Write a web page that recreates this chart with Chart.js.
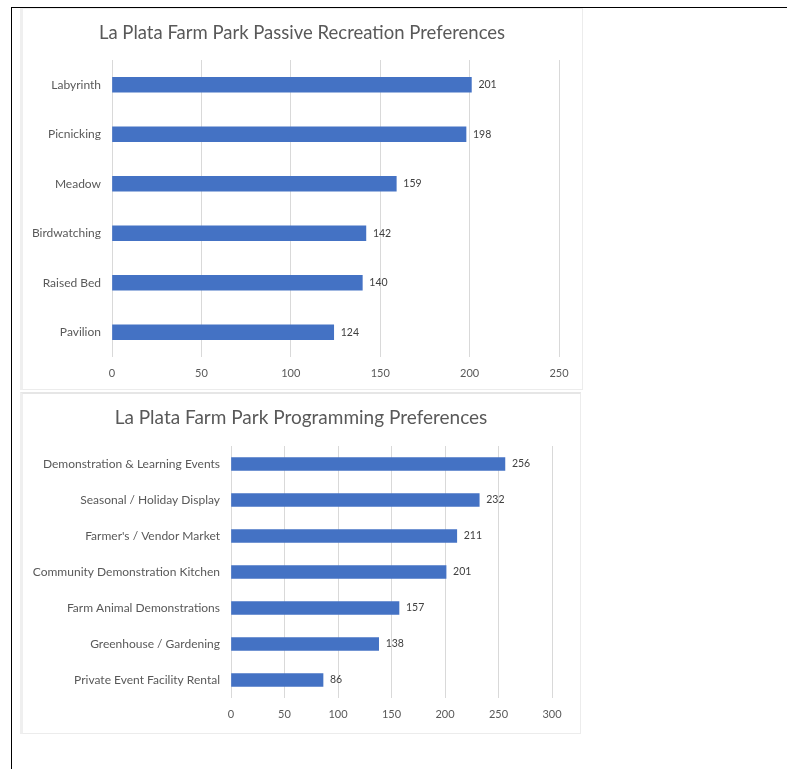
<!DOCTYPE html>
<html>
<head>
<meta charset="utf-8">
<script src="https://cdn.jsdelivr.net/npm/chart.js@4.4.0/dist/chart.umd.min.js"></script>
<style>
  html, body { margin: 0; padding: 0; background: #ffffff; width: 787px; height: 769px; overflow: hidden; }
  #frame { position: absolute; left: 11px; top: 7px; width: 790px; height: 800px; border-top: 1.5px solid #000; border-left: 1.5px solid #000; }
  .panel { position: absolute; background: #ffffff; box-sizing: border-box; border: 1px solid #ececec; border-left: 3px solid #efefef; }
  #p1 { left: 20px; top: 8px; width: 563px; height: 382px; }
  #p2 { left: 20px; top: 392px; width: 561px; height: 342px; border-top: 2px solid #e6e6e6; }
  canvas { position: absolute; }
</style>
</head>
<body>
<div id="frame"></div>
<div class="panel" id="p1"></div>
<div class="panel" id="p2"></div>
<canvas id="c1" style="left:21px; top:8px; width:562px; height:382px;"></canvas>
<canvas id="c2" style="left:21px; top:393px; width:560px; height:340px;"></canvas>
<script>
// ---- data ----
const passiveTitle = "La Plata Farm Park Passive Recreation Preferences";
const passiveCategories = ["Labyrinth", "Picnicking", "Meadow", "Birdwatching", "Raised Bed", "Pavilion"];
const passiveValues = [201, 198, 159, 142, 140, 124];
const passiveTicks = [0, 50, 100, 150, 200, 250];

const programTitle = "La Plata Farm Park Programming Preferences";
const programCategories = ["Demonstration & Learning Events", "Seasonal / Holiday Display", "Farmer's / Vendor Market", "Community Demonstration Kitchen", "Farm Animal Demonstrations", "Greenhouse / Gardening", "Private Event Facility Rental"];
const programValues = [256, 232, 211, 201, 157, 138, 86];
const programTicks = [0, 50, 100, 150, 200, 250, 300];

const FONT = "Lato, 'Open Sans', sans-serif";
const BAR = "#4472C4";
const TXT = "#595959";

const valueLabels = {
  id: 'valueLabels',
  afterDatasetsDraw(chart) {
    const ctx = chart.ctx;
    ctx.save();
    ctx.font = "10.5px " + FONT;
    ctx.fillStyle = "#404040";
    ctx.textAlign = "left";
    ctx.textBaseline = "middle";
    chart.getDatasetMeta(0).data.forEach((bar, i) => {
      ctx.fillText(String(chart.data.datasets[0].data[i]), bar.x + 7, bar.y);
    });
    ctx.restore();
  }
};

// Title centred on the whole panel (Excel-style), not on the padded layout box
const centeredTitle = {
  id: 'centeredTitle',
  afterDraw(chart, args, o) {
    const ctx = chart.ctx;
    ctx.save();
    ctx.font = o.size + "px " + FONT;
    ctx.fillStyle = TXT;
    ctx.textAlign = "center";
    ctx.textBaseline = "middle";
    ctx.fillText(o.text, chart.width / 2, o.y);
    ctx.restore();
  }
};

function makeChart(id, title, cats, vals, ticks, opts) {
  const canvas = document.getElementById(id);
  return new Chart(canvas, {
    type: 'bar',
    data: {
      labels: cats,
      datasets: [{ data: vals, backgroundColor: BAR, borderWidth: 0, barThickness: opts.barThickness }]
    },
    options: {
      indexAxis: 'y',
      responsive: false,
      animation: false,
      devicePixelRatio: 1,
      layout: { padding: { left: 0, right: opts.padRight, top: opts.padTop, bottom: 0 } },
      plugins: {
        legend: { display: false },
        tooltip: { enabled: false },
        title: { display: false },
        centeredTitle: { text: title, size: opts.titleSize, y: 25 }
      },
      scales: {
        x: {
          min: ticks[0], max: ticks[ticks.length - 1],
          afterBuildTicks(scale) { scale.ticks = ticks.map(v => ({ value: v })); },
          afterFit(scale) { scale.height = opts.xHeight; },
          grid: { color: "#d9d9d9", drawTicks: false, lineWidth: 1 },
          border: { display: false },
          ticks: { color: TXT, font: { family: FONT, size: 11 }, padding: 10 }
        },
        y: {
          afterFit(scale) { scale.width = opts.yWidth; },
          grid: { display: false, drawTicks: false },
          border: { display: false },
          ticks: { color: TXT, font: { family: FONT, size: 12 }, padding: 11, autoSkip: false }
        }
      }
    },
    plugins: [valueLabels, centeredTitle]
  });
}

function setup(id, w, h) {
  const c = document.getElementById(id);
  c.width = w; c.height = h;
}
setup('c1', 562, 382);
setup('c2', 560, 340);

makeChart('c1', passiveTitle, passiveCategories, passiveValues, passiveTicks,
  { barThickness: 15, padRight: 24, padTop: 52, xHeight: 33, yWidth: 91, titleSize: 18.5 });
makeChart('c2', programTitle, programCategories, programValues, programTicks,
  { barThickness: 13, padRight: 29, padTop: 53, xHeight: 35, yWidth: 210, titleSize: 19 });
</script>
</body>
</html>
